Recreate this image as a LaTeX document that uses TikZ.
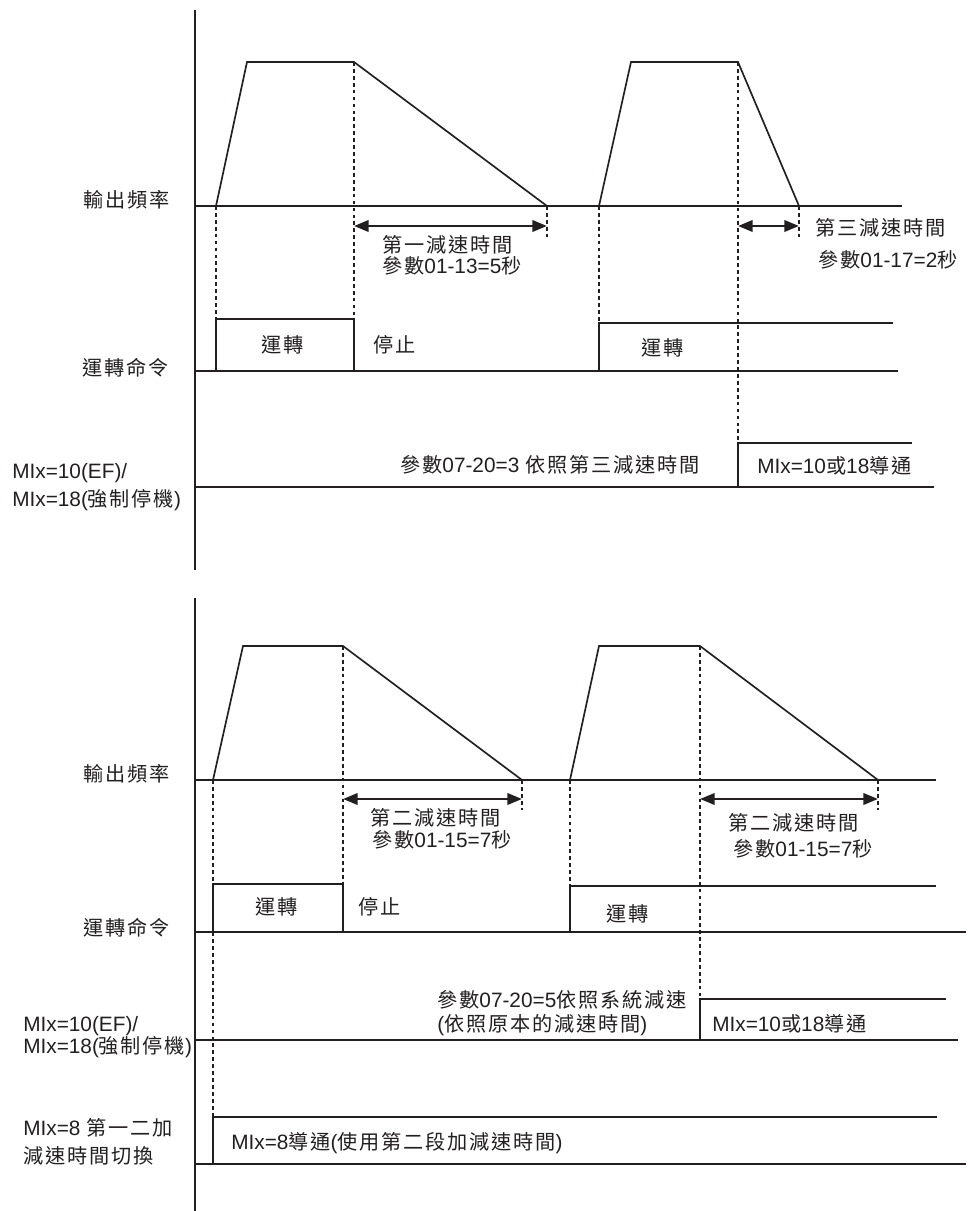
\documentclass[tikz,border=0pt]{standalone}
\usepackage{fontspec}
\setmainfont{Liberation Sans}
\newfontfamily\cjk[Scale=0.97,LetterSpace=9]{Noto Sans CJK TC}
\usetikzlibrary{arrows.meta}
\definecolor{ink}{RGB}{35,31,32}
\newcommand{\C}[1]{{\cjk #1}}
\begin{document}
\begin{tikzpicture}[x=0.75pt,y=-0.75pt,
  wave/.style={draw=ink,line width=1.25pt,line join=miter},
  base/.style={draw=ink,line width=1.4pt},
  guide/.style={draw=ink,line width=1.6pt,dash pattern=on 2.8pt off 2.4pt},
  span/.style={draw=ink,line width=2pt,{Triangle[length=11pt,width=8.5pt]}-{Triangle[length=11pt,width=8.5pt]}},
  lbl/.style={anchor=west,inner sep=0pt,text=ink,font=\fontsize{15.6pt}{18pt}\selectfont},
  clbl/.style={lbl,anchor=center}]
\fill[white] (0,0) rectangle (968,1211);
\useasboundingbox (0,0) rectangle (968,1211);

% ================= TOP DIAGRAM =================
\coordinate (ax1t) at (195,10);  \coordinate (ax1b) at (195,570);
\coordinate (f1l) at (195,206);  \coordinate (f1r) at (902,206);
\coordinate (p1) at (216,206); \coordinate (p2) at (247,62);
\coordinate (p3) at (354,62);  \coordinate (p4) at (547,206);
\coordinate (q1) at (599,206); \coordinate (q2) at (631,62);
\coordinate (q3) at (738,62);  \coordinate (q4) at (799,206);
\coordinate (r1l) at (195,371); \coordinate (r1r) at (898,371);
\coordinate (b1tl) at (216,319); \coordinate (b1br) at (354,371);
\coordinate (b1tr) at (354,319);
\coordinate (s1a) at (599,371); \coordinate (s1b) at (599,323); \coordinate (s1c) at (893,323);
\coordinate (m1l) at (195,487); \coordinate (m1r) at (934,487);
\coordinate (m1a) at (738,487); \coordinate (m1b) at (738,443); \coordinate (m1c) at (912,443);
\coordinate (d1e) at (547,240); \coordinate (d2e) at (799,240);
\coordinate (a1l) at (354,226); \coordinate (a1r) at (547,226);
\coordinate (a2l) at (738,226); \coordinate (a2r) at (799,226);

\draw[guide] (p1) -- (b1tl);
\draw[guide] (p3) -- (b1tr);
\draw[guide] (p4) -- (d1e);
\draw[guide] (q1) -- (s1b);
\draw[guide] (q3) -- (m1b);
\draw[guide] (q4) -- (d2e);

\draw[base] (ax1t) -- (ax1b);
\draw[base] (f1l) -- (f1r);
\draw[wave] (p1) -- (p2) -- (p3) -- (p4);
\draw[wave] (q1) -- (q2) -- (q3) -- (q4);
\draw[span] (a1l) -- (a1r);
\draw[span] (a2l) -- (a2r);
\draw[base] (r1l) -- (r1r);
\draw[wave] (b1tl) rectangle (b1br);
\draw[wave] (s1a) -- (s1b) -- (s1c);
\draw[base] (m1l) -- (m1r);
\draw[wave] (m1a) -- (m1b) -- (m1c);

\node[lbl] (t1freq) at (83,200) {\C{輸出頻率}};
\node[lbl] (t1dec) at (382,245) {\C{第一減速時間}};
\node[lbl] (t1par) at (382,266) {\C{參數}01-13=5\C{秒}};
\node[lbl] (t1dec3) at (815,228) {\C{第三減速時間}};
\node[lbl] (t1par3) at (818,260) {\C{參數}01-17=2\C{秒}};
\node[clbl] (t1run) at (283,345) {\C{運轉}};
\node[lbl] (t1stop) at (373,345) {\C{停止}};
\node[lbl] (t1run2) at (641,348) {\C{運轉}};
\node[lbl] (t1cmd) at (82,368) {\C{運轉命令}};
\node[lbl] (t1p0720) at (400,465) {\C{參數}07-20=3 \C{依照第三減速時間}};
\node[lbl] (t1on) at (757,466) {MIx=10\C{或}18\C{導通}};
\node[lbl] (t1mi1) at (12,473) {MIx=10(EF)/};
\node[lbl] (t1mi2) at (12,500) {MIx=18(\C{強制停機})};

% ================= BOTTOM DIAGRAM =================
\coordinate (ax2t) at (195,598);  \coordinate (ax2b) at (195,1211);
\coordinate (f2l) at (195,780);  \coordinate (f2r) at (936,780);
\coordinate (u1) at (213,780); \coordinate (u2) at (243,646);
\coordinate (u3) at (343,646); \coordinate (u4) at (522,780);
\coordinate (v1) at (570,780); \coordinate (v2) at (599,646);
\coordinate (v3) at (700,646); \coordinate (v4) at (878,780);
\coordinate (r2l) at (195,932); \coordinate (r2r) at (966,932);
\coordinate (b2tl) at (213,884); \coordinate (b2br) at (343,932);
\coordinate (b2tr) at (343,884);
\coordinate (s2a) at (570,932); \coordinate (s2b) at (570,886); \coordinate (s2c) at (936,886);
\coordinate (m2l) at (195,1040); \coordinate (m2r) at (958,1040);
\coordinate (m2a) at (700,1040); \coordinate (m2b) at (700,999); \coordinate (m2c) at (946,999);
\coordinate (n2l) at (195,1164); \coordinate (n2r) at (966,1164);
\coordinate (n2a) at (213,1164); \coordinate (n2b) at (213,1117); \coordinate (n2c) at (937,1117);
\coordinate (d3e) at (522,810); \coordinate (d4e) at (878,810);
\coordinate (a3l) at (343,799); \coordinate (a3r) at (522,799);
\coordinate (a4l) at (700,799); \coordinate (a4r) at (878,799);

\draw[guide] (u1) -- (n2b);
\draw[guide] (u3) -- (b2tr);
\draw[guide] (u4) -- (d3e);
\draw[guide] (v1) -- (s2b);
\draw[guide] (v3) -- (m2b);
\draw[guide] (v4) -- (d4e);

\draw[base] (ax2t) -- (ax2b);
\draw[base] (f2l) -- (f2r);
\draw[wave] (u1) -- (u2) -- (u3) -- (u4);
\draw[wave] (v1) -- (v2) -- (v3) -- (v4);
\draw[span] (a3l) -- (a3r);
\draw[span] (a4l) -- (a4r);
\draw[base] (r2l) -- (r2r);
\draw[wave] (b2tl) rectangle (b2br);
\draw[wave] (s2a) -- (s2b) -- (s2c);
\draw[base] (m2l) -- (m2r);
\draw[wave] (m2a) -- (m2b) -- (m2c);
\draw[base] (n2l) -- (n2r);
\draw[wave] (n2a) -- (n2b) -- (n2c);

\node[lbl] (t2freq) at (83,774) {\C{輸出頻率}};
\node[lbl] (t2dec) at (370,818) {\C{第二減速時間}};
\node[lbl] (t2par) at (372,840) {\C{參數}01-15=7\C{秒}};
\node[lbl] (t2dec2) at (728,823) {\C{第二減速時間}};
\node[lbl] (t2par2) at (733,849) {\C{參數}01-15=7\C{秒}};
\node[clbl] (t2run) at (277,907) {\C{運轉}};
\node[lbl] (t2stop) at (358,907) {\C{停止}};
\node[lbl] (t2run2) at (606,914) {\C{運轉}};
\node[lbl] (t2cmd) at (83,928) {\C{運轉命令}};
\node[lbl] (t2p0720) at (437,1000) {\C{參數}07-20=5\C{依照系統減速}};
\node[lbl] (t2orig) at (437,1025) {(\C{依照原本的減速時間})};
\node[lbl] (t2on) at (712,1024) {MIx=10\C{或}18\C{導通}};
\node[lbl] (t2mi1) at (23,1026) {MIx=10(EF)/};
\node[lbl] (t2mi2) at (23,1047) {MIx=18(\C{強制停機})};
\node[lbl] (t2mi8a) at (23,1128) {MIx=8 \C{第一二加}};
\node[lbl] (t2mi8b) at (23,1156) {\C{減速時間切換}};
\node[lbl] (t2on8) at (231,1143) {MIx=8\C{導通}(\C{使用第二段加減速時間})};
\end{tikzpicture}
\end{document}
